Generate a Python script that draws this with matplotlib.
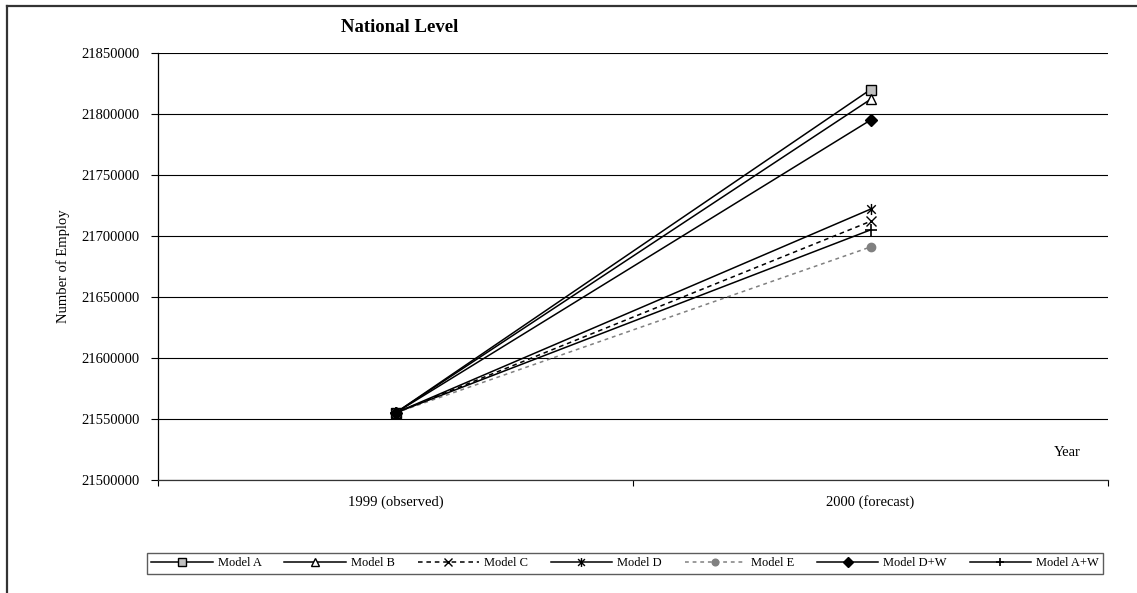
import matplotlib
matplotlib.use("Agg")
import matplotlib.pyplot as plt
from matplotlib.lines import Line2D
from matplotlib.path import Path

plt.rcParams['font.family'] = ['Liberation Serif', 'DejaVu Serif']

# Data
years = ["1999 (observed)", "2000 (forecast)"]
models = ["Model A", "Model B", "Model C", "Model D", "Model E", "Model D+W", "Model A+W"]
observed_1999 = 21555000
forecast_2000 = [21820000, 21812000, 21712000, 21722000, 21691000, 21795000, 21705000]
y_ticks = [21500000, 21550000, 21600000, 21650000, 21700000, 21750000, 21800000, 21850000]

# Asterisk marker: an X crossed by a vertical bar
star = Path([(-1, -1), (1, 1), (-1, 1), (1, -1), (0, -1.3), (0, 1.3)],
            [Path.MOVETO, Path.LINETO, Path.MOVETO, Path.LINETO, Path.MOVETO, Path.LINETO])

styles = [
    dict(color="black", ls="-", marker="s", mfc="#c0c0c0", mec="black", ms=6.5),
    dict(color="black", ls="-", marker="^", mfc="white", mec="black", ms=6.5),
    dict(color="black", ls=(0, (3, 2.5)), marker="x", mfc="black", mec="black", ms=7.5, mew=1.0),
    dict(color="black", ls="-", marker=star, mfc="black", mec="black", ms=8, mew=1.0),
    dict(color="#808080", ls=(0, (2.5, 2.5)), marker="o", mfc="#808080", mec="#808080", ms=6),
    dict(color="black", ls="-", marker="D", mfc="black", mec="black", ms=6),
    dict(color="black", ls="-", marker="+", mfc="black", mec="black", ms=8, mew=1.2),
]

W, H = 1137, 593
fig = plt.figure(figsize=(W / 100, H / 100), dpi=100)

# Outer chart frame (left and top edges)
fig.add_artist(Line2D([7 / W, 7 / W], [0, 1 - 6 / H], transform=fig.transFigure,
                      color="#333333", lw=1.6))
fig.add_artist(Line2D([7 / W, 1], [1 - 6 / H, 1 - 6 / H], transform=fig.transFigure,
                      color="#333333", lw=1.6))

left, right, top, bottom = 158, 1108, 53, 480
ax = fig.add_axes([left / W, 1 - bottom / H, (right - left) / W, (bottom - top) / H])

x = [0, 1]
handles = []
for name, val, st in zip(models, forecast_2000, styles):
    h, = ax.plot(x, [observed_1999, val], lw=1.1, label=name, clip_on=False, zorder=3, **st)
    handles.append(h)

ax.set_xlim(-0.5, 1.5)
ax.set_ylim(y_ticks[0], y_ticks[-1])
ax.set_yticks(y_ticks)
ax.set_yticklabels([str(v) for v in y_ticks], fontsize=10.5)
ax.tick_params(axis="y", direction="out", length=5, width=0.8, pad=8)

ax.set_xticks([-0.5, 0.5, 1.5])
ax.set_xticklabels(["", "", ""])
ax.tick_params(axis="x", which="major", direction="out", length=4, width=0.8)
ax.set_xticks([0, 1], minor=True)
ax.set_xticklabels(years, minor=True, fontsize=10.5)
ax.tick_params(axis="x", which="minor", length=0, pad=11)

ax.grid(axis="y", color="black", lw=0.8)
ax.set_axisbelow(True)
for s in ("top", "right"):
    ax.spines[s].set_visible(False)
ax.spines["left"].set_linewidth(0.9)
ax.spines["bottom"].set_linewidth(0.9)
ax.spines["bottom"].set_color("#333333")

ax.set_ylabel("Number of Employ", fontsize=10.5, labelpad=8)
ax.text((1067 - left) / (right - left), (bottom - 453) / (bottom - top), "Year",
        transform=ax.transAxes, ha="center", va="center", fontsize=10.5)

fig.text(400 / W, 1 - 27 / H, "National Level", ha="center", va="center",
         fontsize=13.5, fontweight="bold")

leg = fig.legend(handles=handles, loc="center", ncol=7, mode="expand",
                 bbox_to_anchor=(147 / W, 1 - 576 / H, (1103 - 147) / W, 25 / H),
                 bbox_transform=fig.transFigure, fontsize=9, frameon=True,
                 fancybox=False, handlelength=4.9, handletextpad=0.4,
                 columnspacing=1.6, borderpad=0.35, borderaxespad=0,
                 markerscale=0.8)
leg.get_frame().set_edgecolor("#333333")
leg.get_frame().set_linewidth(1.0)

fig.savefig("out.png", dpi=100)
